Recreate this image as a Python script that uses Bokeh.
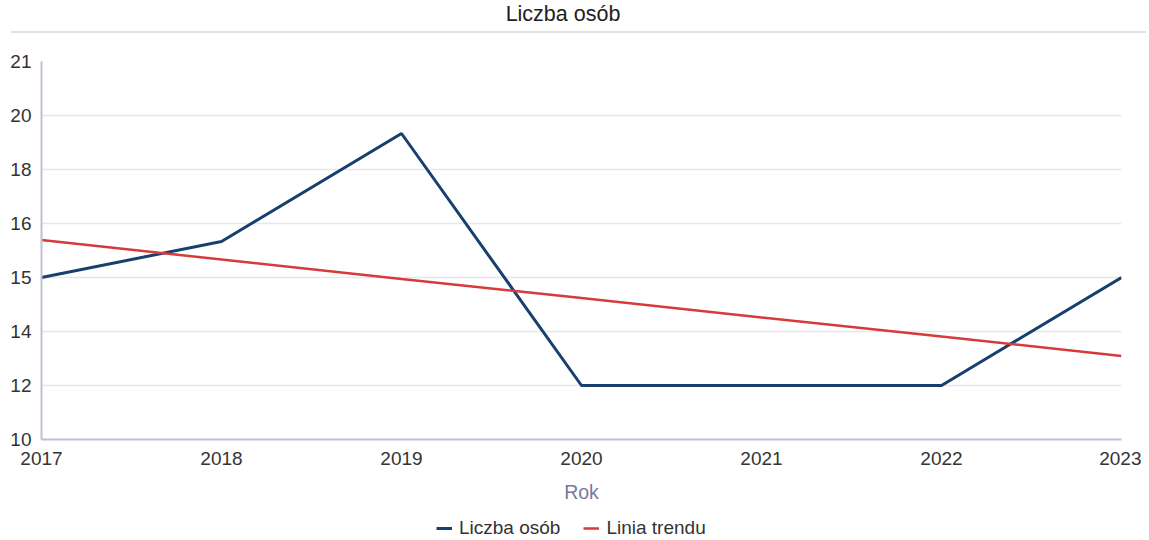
from bokeh.plotting import figure
from bokeh.models import (FixedTicker, Legend, LegendItem, Range1d, Div)
from bokeh.layouts import column
from bokeh.embed import file_html
from bokeh.resources import INLINE

years = [2017, 2018, 2019, 2020, 2021, 2022, 2023]
persons = [15, 16, 19, 12, 12, 12, 15]
trend = [16.04, 15.5, 14.96, 14.43, 13.89, 13.36, 12.82]
y_ticks = [10.5, 12, 13.5, 15, 16.5, 18, 19.5, 21]
y_tick_labels = ["10", "12", "14", "15", "16", "18", "20", "21"]
series_names = ["Liczba osób", "Linia trendu"]
chart_title = "Liczba osób"
x_title = "Rok"

FONT = "Liberation Sans"
BLUE = "#17406d"
RED = "#d63a3a"

title = Div(
    text=(f"<div style=\"position:absolute; left:0px; top:-1px; width:1116px; "
          f"text-align:center; font-family:'{FONT}'; font-size:21.5px; line-height:21px; "
          f"color:#1e1e1e; white-space:nowrap;\">{chart_title}</div>"
          "<div style=\"position:absolute; left:6px; top:26px; width:1135px; height:2px; "
          "background:#e0e0ea;\"></div>"),
    width=1141, height=29, styles={"overflow": "visible"})

p = figure(width=1141, height=466, output_backend="svg", toolbar_location=None,
           x_range=Range1d(2017, 2023), y_range=Range1d(10.5, 21))
p.min_border_left = 41
p.min_border_right = 20
p.min_border_top = 22
p.min_border_bottom = 40
p.outline_line_color = None

r1 = p.line(years, persons, line_color=BLUE, line_width=3)
r2 = p.line(years, trend, line_color=RED, line_width=2.5)

p.xaxis.ticker = FixedTicker(ticks=years)
p.yaxis.ticker = FixedTicker(ticks=y_ticks)
p.yaxis.major_label_overrides = {t: l for t, l in zip(y_ticks, y_tick_labels)}
for ax in (p.xaxis, p.yaxis):
    ax.axis_line_color = "#c0c0d4"
    ax.axis_line_width = 2
    ax.major_tick_line_color = None
    ax.minor_tick_line_color = None
    ax.major_tick_out = 0
    ax.major_tick_in = 0
    ax.minor_tick_out = 0
    ax.major_label_text_font = FONT
    ax.major_label_text_font_size = "19px"
    ax.major_label_text_color = "#333333"
p.yaxis.major_label_standoff = 10
p.xaxis.major_label_standoff = 12
p.xaxis.axis_label = x_title
p.xaxis.axis_label_text_font = FONT
p.xaxis.axis_label_text_font_style = "normal"
p.xaxis.axis_label_text_font_size = "19.5px"
p.xaxis.axis_label_text_color = "#7a7a9c"
p.xaxis.axis_label_standoff = 13

p.xgrid.grid_line_color = None
p.ygrid.grid_line_color = "#e6e6ee"
p.ygrid.grid_line_width = 1.5

# legend strip
lg = figure(width=1141, height=35, output_backend="svg", toolbar_location=None,
            x_range=Range1d(0, 1), y_range=Range1d(0, 1),
            x_axis_location=None, y_axis_location=None)
lg.min_border = 0
lg.outline_line_color = None
lg.grid.visible = False
lr1 = lg.line([5, 6], [5, 6], line_color=BLUE, line_width=3)
lr2 = lg.line([5, 6], [5, 6], line_color=RED, line_width=2.5)
legend = Legend(items=[LegendItem(label=series_names[0], renderers=[lr1]),
                       LegendItem(label=series_names[1], renderers=[lr2])],
                orientation="horizontal", location=(395, 1),
                label_text_font=FONT, label_text_font_size="19px",
                label_text_color="#333333", border_line_color=None,
                background_fill_alpha=0, label_height=20, glyph_height=20,
                glyph_width=16, label_standoff=7, spacing=23, padding=0, margin=0)
lg.add_layout(legend, "center")

layout = column(title, p, lg, spacing=0)
open("out.html", "w").write(file_html(layout, INLINE))
